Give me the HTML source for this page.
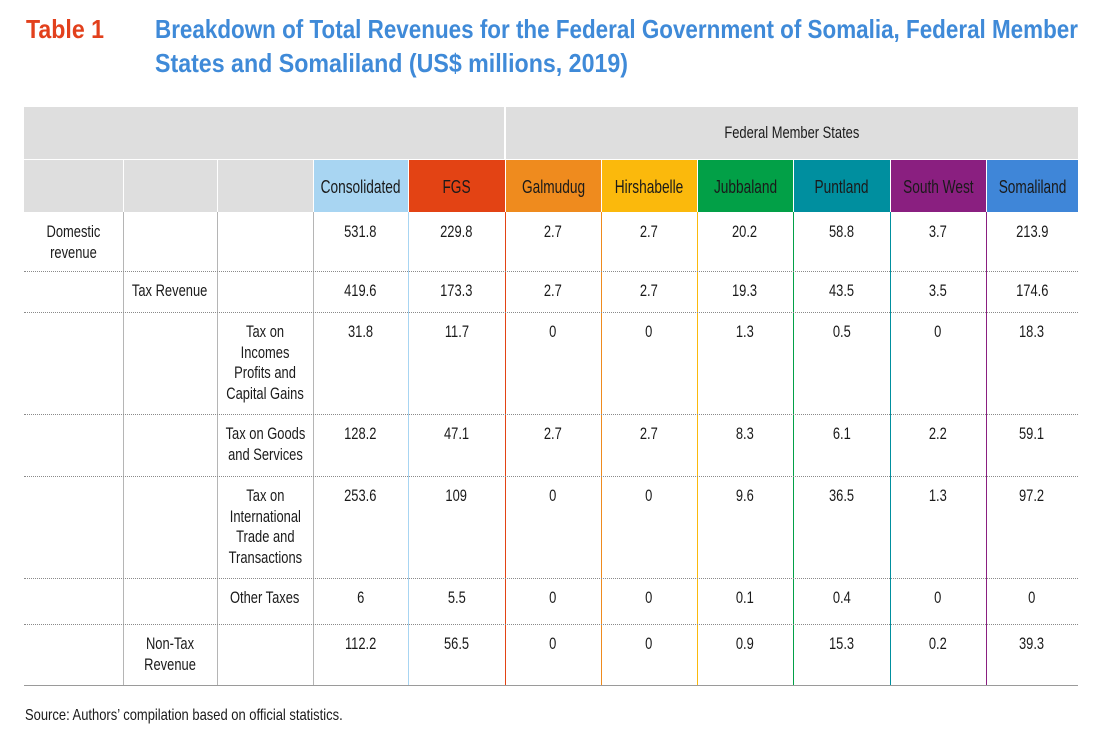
<!DOCTYPE html>
<html><head><meta charset="utf-8">
<style>
body{margin:0;width:1097px;height:734px;background:#fff;position:relative;overflow:hidden;font-family:"Liberation Sans",sans-serif;color:#1a1a1a}
.c{position:absolute;box-sizing:border-box;display:flex;justify-content:center;align-items:flex-start;font-size:17px;line-height:20.5px}
.c span{display:inline-block;white-space:nowrap;text-align:center;transform:scaleX(0.76);transform-origin:center top;flex:none}
.hl{position:absolute;height:0;border-top:1px dotted #8a8a8a}
.vl{position:absolute;width:0}
</style></head><body>
<svg width="1097" height="90" style="position:absolute;left:0;top:0">
<text x="26" y="38" font-family="Liberation Sans, sans-serif" font-weight="bold" font-size="26" fill="#e2401c" textLength="78" lengthAdjust="spacingAndGlyphs">Table 1</text>
<text x="155" y="38" font-family="Liberation Sans, sans-serif" font-weight="bold" font-size="26" fill="#3f8ad8" textLength="923" lengthAdjust="spacingAndGlyphs">Breakdown of Total Revenues for the Federal Government of Somalia, Federal Member</text>
<text x="155" y="72" font-family="Liberation Sans, sans-serif" font-weight="bold" font-size="26" fill="#3f8ad8" textLength="473" lengthAdjust="spacingAndGlyphs">States and Somaliland (US$ millions, 2019)</text>
</svg>
<div id="tbl"></div>
<div style="position:absolute;left:25px;top:707px;font-size:16px;transform:scaleX(0.81);transform-origin:left top;white-space:nowrap">Source: Authors’ compilation based on official statistics.</div>
<script>
const columns=["Consolidated","FGS","Galmudug","Hirshabelle","Jubbaland","Puntland","South West","Somaliland"];
const colColors=["#a8d5f2","#e34314","#ef8b1e","#fbb90c","#02a047","#008f9f","#8a1f80","#3f86d8"];
const rowLabels=[["Domestic<br>revenue","",""],["","Tax Revenue",""],["","","Tax on<br>Incomes<br>Profits and<br>Capital Gains"],["","","Tax on Goods<br>and Services"],["","","Tax on<br>International<br>Trade and<br>Transactions"],["","","Other Taxes"],["","Non-Tax<br>Revenue",""]];
const values=[
[531.8,229.8,2.7,2.7,20.2,58.8,3.7,213.9],
[419.6,173.3,2.7,2.7,19.3,43.5,3.5,174.6],
[31.8,11.7,0,0,1.3,0.5,0,18.3],
[128.2,47.1,2.7,2.7,8.3,6.1,2.2,59.1],
[253.6,109,0,0,9.6,36.5,1.3,97.2],
[6,5.5,0,0,0.1,0.4,0,0],
[112.2,56.5,0,0,0.9,15.3,0.2,39.3]];
const xs=[24,123,217,313,408,505,601,697,793,890,986,1078];
const ys=[212,271,312,414,476,578,624,685];
const T=document.getElementById('tbl');
function add(cls,st,html){const d=document.createElement('div');d.className=cls;d.style.cssText=st;if(html!==undefined&&html!=='')d.innerHTML='<span>'+html+'</span>';T.appendChild(d);return d;}
let h=add('c',`left:24px;top:107px;width:480px;height:52px;background:#dedede`);


h=add('c',`left:506px;top:107px;width:572px;height:52px;background:#dedede;padding-top:16px`,'Federal Member States');


for(let i=0;i<11;i++){
  const bg=i<3?'#dedede':colColors[i-3];
  const txt=i<3?'':columns[i-3];
  h=add('c',`left:${xs[i]+(i?1:0)}px;top:160px;width:${xs[i+1]-xs[i]-(i?1:0)}px;height:52px;background:${bg};padding-top:17px;font-size:18px`,txt);
  
  
}
for(let i=1;i<11;i++){
  const col=i<=3?'#b5b5b5':colColors[i-4];
  const v=add('vl',`left:${xs[i]}px;top:212px;height:473px;border-left:1px solid ${col}`);
  
  
}
for(let r=0;r<values.length;r++){
  const y=ys[r];
  for(let k=0;k<3;k++){
    if(!rowLabels[r][k])continue;
    const lc=add('c',`left:${xs[k]}px;top:${y+10}px;width:${xs[k+1]-xs[k]}px`,rowLabels[r][k]);
    
    
  }
  for(let j=0;j<values[r].length;j++){
    const vc=add('c',`left:${xs[j+3]}px;top:${y+10}px;width:${xs[j+4]-xs[j+3]}px`,String(values[r][j]));
    
    
  }
  if(r<values.length-1){
    const l=add('hl',`left:24px;top:${ys[r+1]}px;width:1054px`);
    
    
  }
}
const b=add('hl',`left:24px;top:685px;width:1054px;border-top:1px solid #9a9a9a`);


</script>
</body></html>
